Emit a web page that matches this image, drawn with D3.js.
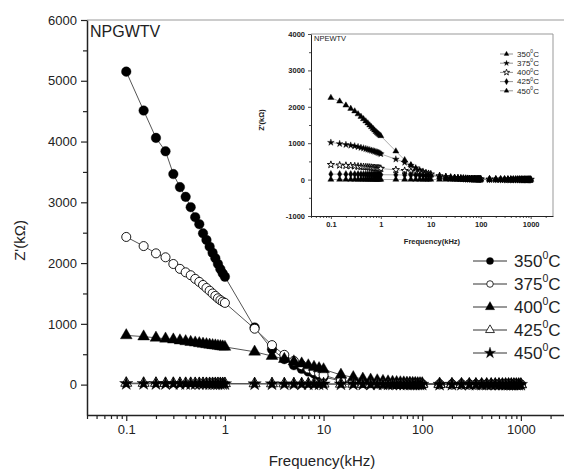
<html>
<head>
<style>
    body { margin: 0; background: #fff; }
    svg { font-family: 'Liberation Sans', Arial, sans-serif; }
    .axis .domain { stroke: #222; stroke-width: 1.5; }
    .axis .tick line { stroke: #222; stroke-width: 1.2; }
    .axis .tick text { fill: #222; }
    .inset .axis .domain { stroke-width: 1; }
    .inset .axis .tick line { stroke-width: 0.8; }
</style>
</head>
<body>
<svg width="564" height="469"></svg>
<script src="https://d3js.org/d3.v7.min.js"></script>
<script>

// frequencies (kHz) shared by every curve
let freq = [0.1,0.15,0.2,0.25,0.3,0.35,0.4,0.45,0.5,0.55,0.6,0.65,0.7,0.75,0.8,0.85,0.9,0.95,1,
    2,3,4,5,6,7,8,9,10,
    15,20,25,30,35,40,45,50,55,60,65,70,75,80,85,90,95,100,
    150,200,250,300,350,400,450,500,550,600,650,700,750,800,850,900,950,1000]

// main plot (NPGWTV)
let temps = ["350", "375", "400", "425", "450"]
let main350 = [5150,4510,4060,3840,3465,3250,3090,2920,2755,2640,2490,2380,2270,2170,2080,1985,1900,1830,1775,
    940,580,420,320,260,215,180,150,125,
    60,40,30,25,20,18,15,13,12,11,10,9,8,8,7,7,6,6,
    5,4,4,3,3,3,3,2,2,2,2,2,2,2,2,2,2,2]
let main375 = [2430,2280,2160,2095,1985,1905,1848,1800,1740,1690,1640,1590,1545,1500,1460,1420,1390,1365,1345,
    920,650,490,390,320,265,220,185,155,
    70,45,33,27,22,19,16,14,13,12,11,10,9,9,8,8,7,7,
    5,4,4,3,3,3,3,2,2,2,2,2,2,2,2,2,2,2]
let main400 = [810,790,770,755,740,725,712,700,690,680,670,662,655,648,642,636,630,625,620,
    540,470,420,380,345,315,290,268,250,
    160,120,95,80,68,58,50,44,40,36,33,30,28,26,24,22,21,20,
    14,11,9,8,7,6,6,5,5,5,4,4,4,4,3,3,3,3]
let main425 = [25,24,24,23,23,22,22,22,21,21,21,20,20,20,20,19,19,19,19,
    17,16,15,14,14,13,13,12,12,
    10,9,8,8,7,7,6,6,6,5,5,5,5,4,4,4,4,4,
    3,3,3,3,2,2,2,2,2,2,2,2,2,2,2,2,2,2]
let main450 = [15,15,14,14,14,14,13,13,13,13,13,12,12,12,12,12,12,11,11,
    10,10,9,9,9,8,8,8,8,
    7,6,6,5,5,5,5,4,4,4,4,4,3,3,3,3,3,3,
    2,2,2,2,2,2,2,2,2,1,1,1,1,1,1,1,1,1]

// inset (NPEWTV)
let ins350 = [2250,2150,2040,1950,1880,1800,1730,1665,1605,1550,1495,1445,1400,1355,1315,1280,1250,1225,1200,
    780,540,400,300,235,190,160,140,125,
    80,60,48,40,34,30,27,24,22,20,18,17,16,15,14,13,12,12,
    8,6,5,5,4,4,3,3,3,3,3,2,2,2,2,2,2,2]
let ins375 = [1020,985,960,940,920,900,880,862,845,830,815,800,787,775,762,750,738,725,705,
    560,470,390,320,265,225,195,170,150,
    90,65,50,42,36,31,27,24,22,20,18,17,16,15,14,13,12,12,
    8,6,5,5,4,4,3,3,3,3,3,2,2,2,2,2,2,2]
let ins400 = [410,395,385,378,370,362,355,350,345,340,335,330,326,322,318,314,310,306,302,
    270,245,225,205,190,175,165,155,145,
    100,75,60,50,42,36,32,28,25,22,20,18,16,15,14,13,12,12,
    8,6,5,5,4,4,3,3,3,3,3,2,2,2,2,2,2,2]
let ins425 = [150,150,148,147,146,145,144,143,142,141,140,140,139,138,138,137,136,136,135,
    130,127,124,121,118,116,114,112,110,
    85,65,52,44,38,33,29,26,23,21,19,17,16,15,14,13,12,11,
    7,6,5,4,4,3,3,3,3,2,2,2,2,2,2,2,2,2]
let ins450 = [2,2,2,2,2,2,2,2,2,2,2,2,2,2,2,2,2,2,2,
    2,2,2,2,2,2,2,2,2,
    1,1,1,1,1,1,1,1,1,1,1,1,1,1,1,1,1,1,
    0,0,0,0,0,0,0,0,0,0,0,0,0,0,0,0,0,0]

let xMajor = [0.1, 1, 10, 100, 1000]
let yMainTicks = [0, 1000, 2000, 3000, 4000, 5000, 6000]
let yInsetTicks = [-1000, 0, 1000, 2000, 3000, 4000]

let svg = d3.select("svg")

// minor log ticks between 0.04 and ~2800
let xMinor = []
for (let dec of [0.01, 0.1, 1, 10, 100, 1000]) {
    for (let k = 2; k <= 9; k++) {
        let v = +(k * dec).toPrecision(3)
        if (v >= 0.04 && v <= 2800) xMinor.push(v)
    }
}

function drawPlot(g, opt) {
    let x = d3.scaleLog().domain([0.04, 2800]).range([opt.left, opt.right])
    let y = d3.scaleLinear().domain(opt.yDomain).range([opt.bottom, opt.top])

    // frame top/right in gray
    g.append("path")
        .attr("d", `M${opt.left},${opt.top}H${opt.right}V${opt.bottom}`)
        .attr("fill", "none")
        .attr("stroke", "#999")
        .attr("stroke-width", 1)

    // minor ticks
    g.append("g").attr("class", "axis")
        .attr("transform", `translate(0,${opt.bottom})`)
        .call(d3.axisBottom(x).tickValues(xMinor).tickSize(opt.minorLen).tickFormat(""))
        .call(a => a.select(".domain").remove())
    g.append("g").attr("class", "axis")
        .attr("transform", `translate(${opt.left},0)`)
        .call(d3.axisLeft(y).tickValues(opt.yMinor).tickSize(opt.minorLen).tickFormat(""))
        .call(a => a.select(".domain").remove())

    let xa = g.append("g").attr("class", "axis")
        .attr("transform", `translate(0,${opt.bottom})`)
        .call(d3.axisBottom(x).tickValues(xMajor).tickSize(opt.majorLen).tickSizeOuter(0)
            .tickPadding(opt.pad).tickFormat(d => String(d)))
    xa.selectAll("text").style("font-size", opt.tickFont + "px").style("font-weight", opt.weight)

    let ya = g.append("g").attr("class", "axis")
        .attr("transform", `translate(${opt.left},0)`)
        .call(d3.axisLeft(y).tickValues(opt.yMajor).tickSize(opt.majorLen).tickSizeOuter(0)
            .tickPadding(opt.pad).tickFormat(d => String(d)))
    ya.selectAll("text").style("font-size", opt.tickFont + "px").style("font-weight", opt.weight)

    let line = d3.line().x(d => x(d[0])).y(d => y(d[1]))

    opt.series.forEach(s => {
        let pts = freq.map((f, i) => [f, s.values[i]])
        g.append("path")
            .datum(pts)
            .attr("d", line)
            .attr("fill", "none")
            .attr("stroke", opt.lineColor)
            .attr("stroke-width", opt.lineWidth)
    })
    opt.series.forEach(s => {
        let pts = freq.map((f, i) => [f, s.values[i]])
        g.append("g").selectAll("path")
            .data(pts)
            .join("path")
            .attr("transform", d => `translate(${x(d[0])},${y(d[1])})`)
            .attr("d", d3.symbol().type(s.symbol).size(s.size))
            .attr("fill", s.open ? "#fff" : "#000")
            .attr("stroke", "#000")
            .attr("stroke-width", s.open ? 0.9 : 0.4)
    })

    // legend
    opt.series.forEach((s, i) => {
        let ly = opt.legY + i * opt.legGap
        g.append("line")
            .attr("x1", opt.legX).attr("x2", opt.legX + opt.legLen)
            .attr("y1", ly).attr("y2", ly)
            .attr("stroke", opt.legLine).attr("stroke-width", opt.lineWidth)
        g.append("path")
            .attr("transform", `translate(${opt.legX + opt.legLen / 2},${ly})`)
            .attr("d", d3.symbol().type(s.symbol).size(s.legSize))
            .attr("fill", s.open ? "#fff" : "#000")
            .attr("stroke", "#000")
            .attr("stroke-width", s.open ? 0.8 : 0.3)
        let t = g.append("text")
            .attr("x", opt.legX + opt.legLen + opt.legPad)
            .attr("y", ly + opt.legFont * 0.36)
            .style("font-size", opt.legFont + "px")
            .style("fill", "#222")
        t.append("tspan").text(s.name)
        t.append("tspan").text("0").attr("dy", -opt.legFont * 0.45)
            .style("font-size", (opt.legFont * 0.62) + "px")
        t.append("tspan").text("C").attr("dy", opt.legFont * 0.45)
    })

    // title
    g.append("text")
        .attr("x", opt.left + 3).attr("y", opt.titleY)
        .text(opt.title)
        .style("font-size", opt.titleFont + "px")
        .style("fill", "#222")

    g.append("text")
        .attr("x", (opt.left + opt.xLabelRight) / 2).attr("y", opt.xLabelY)
        .attr("text-anchor", "middle")
        .text("Frequency(kHz)")
        .style("font-size", opt.labelFont + "px")
        .style("font-weight", opt.weight)
        .style("fill", "#222")

    g.append("text")
        .attr("transform", `translate(${opt.yLabelX},${(opt.top + opt.bottom) / 2 + opt.yLabelShift}) rotate(-90)`)
        .attr("text-anchor", "middle")
        .text("Z'(k\u03A9)")
        .style("font-size", opt.labelFont + "px")
        .style("font-weight", opt.weight)
        .style("fill", "#222")
}

let mainG = svg.append("g").attr("class", "main")
drawPlot(mainG, {
    left: 87, right: 565, top: 20, bottom: 415,
    yDomain: [-500, 6000],
    yMajor: yMainTicks, yMinor: [500, 1500, 2500, 3500, 4500, 5500],
    majorLen: 6, minorLen: 4, pad: 4, tickFont: 13, weight: "normal",
    lineColor: "#555", lineWidth: 1,
    legX: 473, legLen: 34, legPad: 7, legY: 261, legGap: 23, legFont: 17, legLine: "#333",
    title: "NPGWTV", titleY: 37, titleFont: 16,
    xLabelRight: 557, xLabelY: 466, yLabelX: 25, yLabelShift: 23, labelFont: 15,
    series: [
        {name: temps[0], values: main350, symbol: d3.symbolCircle, open: false, size: 72, legSize: 40},
        {name: temps[1], values: main375, symbol: d3.symbolCircle, open: true, size: 64, legSize: 34},
        {name: temps[2], values: main400, symbol: d3.symbolTriangle, open: false, size: 60, legSize: 38},
        {name: temps[3], values: main425, symbol: d3.symbolTriangle, open: true, size: 52, legSize: 34},
        {name: temps[4], values: main450, symbol: d3.symbolStar, open: false, size: 55, legSize: 40}
    ]
})

let insetG = svg.append("g").attr("class", "inset")
drawPlot(insetG, {
    left: 311, right: 553, top: 34, bottom: 216,
    yDomain: [-1000, 4000],
    yMajor: yInsetTicks, yMinor: [-500, 500, 1500, 2500, 3500],
    majorLen: 3, minorLen: 2, pad: 3, tickFont: 7.5, weight: "bold",
    lineColor: "#888", lineWidth: 0.7,
    legX: 500, legLen: 13, legPad: 4, legY: 54, legGap: 9.2, legFont: 8, legLine: "#666",
    title: "NPEWTV", titleY: 41, titleFont: 7.5,
    xLabelRight: 553, xLabelY: 244, yLabelX: 264, yLabelShift: -5, labelFont: 7.5,
    series: [
        {name: temps[0], values: ins350, symbol: d3.symbolTriangle, open: false, size: 16, legSize: 10},
        {name: temps[1], values: ins375, symbol: d3.symbolStar, open: false, size: 14, legSize: 10},
        {name: temps[2], values: ins400, symbol: d3.symbolStar, open: true, size: 16, legSize: 12},
        {name: temps[3], values: ins425, symbol: d3.symbolDiamond, open: false, size: 16, legSize: 12},
        {name: temps[4], values: ins450, symbol: d3.symbolTriangle, open: false, size: 16, legSize: 10}
    ]
})

</script>
</body>
</html>
